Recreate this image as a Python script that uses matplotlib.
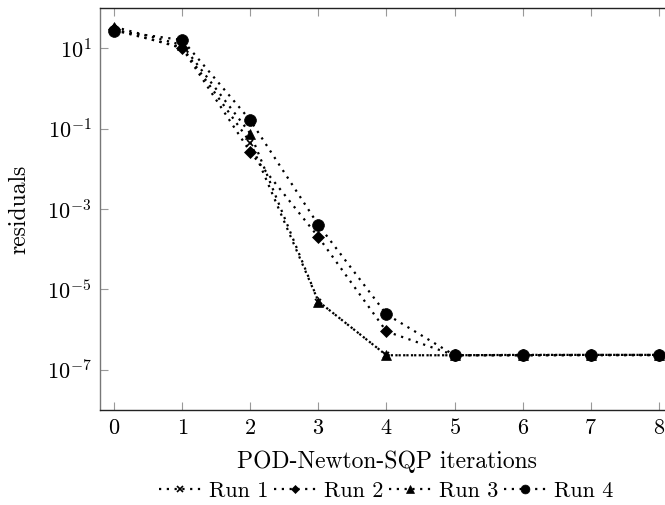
import matplotlib
matplotlib.use("Agg")
import matplotlib.pyplot as plt
from matplotlib.ticker import FixedLocator, LogFormatterMathtext, NullLocator

plt.rcParams['font.family'] = ['cmr10', 'DejaVu Serif']
plt.rcParams['mathtext.fontset'] = 'cm'
plt.rcParams['axes.unicode_minus'] = False
plt.rcParams['axes.formatter.use_mathtext'] = True

iterations = [0, 1, 2, 3, 4, 5, 6, 7, 8]
run1 = [28, 10.5, 0.045, 5.0e-6, 2.3e-7, 2.3e-7, 2.3e-7, 2.3e-7, 2.3e-7]
run2 = [30, 10.0, 0.026, 2.0e-4, 9.0e-7, 2.3e-7, 2.3e-7, 2.35e-7, 2.35e-7]
run3 = [34, 12.0, 0.075, 5.0e-6, 2.3e-7, 2.3e-7, 2.35e-7, 2.35e-7, 2.35e-7]
run4 = [27, 16.0, 0.16, 4.0e-4, 2.4e-6, 2.3e-7, 2.35e-7, 2.35e-7, 2.35e-7]
labels = ['Run 1', 'Run 2', 'Run 3', 'Run 4']
yticks = [1e1, 1e-1, 1e-3, 1e-5, 1e-7]

fig = plt.figure(figsize=(6.65, 5.05), dpi=100)
ax = fig.add_axes([100/665, 1-410/505, 573/665, 402/505])

dot = (0, (1, 2.5))
series = [(run1, 'x', 5), (run2, 'D', 6), (run3, '^', 7.5), (run4, 'o', 8.5)]
for (vals, mk, ms), lab in zip(series, labels):
    ax.plot(iterations, vals, linestyle=dot, linewidth=1.6, color='black',
            marker=mk, markersize=ms, markeredgewidth=1.2 if mk == 'x' else 0.5,
            label=lab)

ax.set_yscale('log')
ax.set_ylim(1e-8, 1e2)
ax.set_xlim(-0.21, 8.21)
ax.yaxis.set_major_locator(FixedLocator(yticks))
ax.yaxis.set_major_formatter(LogFormatterMathtext())
ax.yaxis.set_minor_locator(NullLocator())
ax.set_xticks(iterations)

ax.tick_params(direction='in', length=6, width=0.8, color='#999999',
               labelsize=16, top=True, right=True, pad=6)
for s in ax.spines.values():
    s.set_linewidth(1.0)
    s.set_color('#222222')
ax.spines['left'].set_color('#777777')

ax.set_xlabel('POD-Newton-SQP iterations', fontsize=17, labelpad=9)
ax.set_ylabel('residuals', fontsize=17, labelpad=12)

fig.legend(loc='center', bbox_to_anchor=(386/665, 1-491/505), ncol=4,
           frameon=False, fontsize=16, handlelength=1.9, numpoints=1,
           markerscale=0.75, columnspacing=0.25, handletextpad=0.35,
           borderpad=0.0)

fig.savefig('out.png', dpi=100)
